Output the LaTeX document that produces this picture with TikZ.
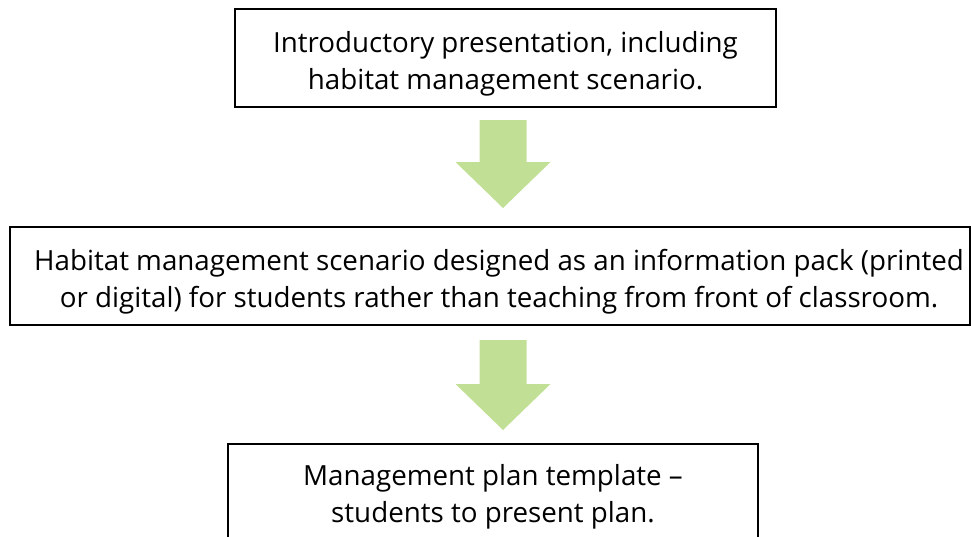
\documentclass[tikz,border=0pt]{standalone}
\usepackage{fontspec}
\setmainfont{Open Sans}
\usepackage{tikz}
\usetikzlibrary{positioning, calc}

\definecolor{arrowgreen}{RGB}{193,224,150}

\tikzset{
  stagebox/.style={draw=black, line width=1.1pt, inner sep=0pt, minimum height=73.5pt},
  stagetext/.style={align=center, inner sep=0pt, font=\fontsize{20.8}{27.75}\selectfont},
  bigarrow/.style={fill=arrowgreen}
}

% block arrow from top coordinate #1 to tip coordinate #2 (pixel units, y down)
\newcommand{\greenarrow}[2]{%
  \fill[bigarrow] ($(#1)+(-23.5,0)$) -- ($(#1)+(23.5,0)$) -- ($(#2)+(23.5,-46)$)
    -- ($(#2)+(47.5,-46)$) -- (#2) -- ($(#2)+(-47.5,-46)$) -- ($(#2)+(-23.5,-46)$) -- cycle;}

\begin{document}
\begin{tikzpicture}[x=0.75pt, y=-0.75pt]
  \clip (0,0) rectangle (971,536);
  % boxes
  \node[stagebox, minimum width=405.75pt] (intro) at (505.5,58) {};
  \node[stagebox, minimum width=720pt] (pack) at (490,276) {};
  \node[stagebox, minimum width=397.5pt] (plan) at (493,493) {};
  % texts
  \node[stagetext] (introtext) at ([yshift=-4pt]intro.center)
    {Introductory presentation, including\\habitat management scenario.};
  \node[stagetext] (packtext) at ([xshift=6.75pt, yshift=-4pt]pack.center)
    {Habitat management scenario designed as an information pack (printed\\or digital) for students rather than teaching from front of classroom.};
  \node[stagetext] (plantext) at ([yshift=-3pt]plan.center)
    {Management plan template --\\students to present plan.};
  % arrows
  \coordinate (a1top) at (503,120);
  \coordinate (a1tip) at (503,208);
  \coordinate (a2top) at (503,340);
  \coordinate (a2tip) at (503,430);
  \greenarrow{a1top}{a1tip}
  \greenarrow{a2top}{a2tip}
\end{tikzpicture}
\end{document}
